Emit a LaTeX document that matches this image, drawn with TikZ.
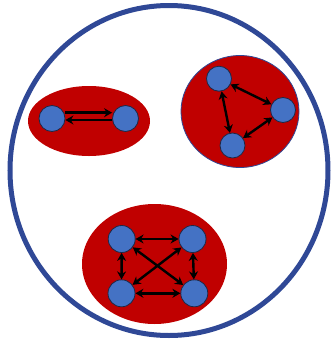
\documentclass[tikz,border=0pt]{standalone}
\usetikzlibrary{arrows.meta}
\definecolor{bigblue}{RGB}{47,72,150}
\definecolor{grpred}{RGB}{192,0,0}
\definecolor{nodeblue}{RGB}{68,114,196}
\definecolor{nodeedge}{RGB}{30,40,70}
\begin{document}
\begin{tikzpicture}[x=1pt,y=-1pt,
  agent/.style={circle,draw=nodeedge,line width=0.8pt,fill=nodeblue,minimum size=26pt,inner sep=0pt},
  link/.style={line width=2.4pt,black,{Stealth[length=8pt,width=9pt]}-{Stealth[length=8pt,width=9pt]}},
  onelink/.style={line width=2.6pt,black,-{Stealth[length=8pt,width=9pt]}},
  group/.style={fill=grpred}]
\useasboundingbox (0,0) rectangle (332,341);
\draw[bigblue,line width=5pt] (169,170.5) ellipse [x radius=159,y radius=165];
% left group
\fill[group] (89,121) ellipse [x radius=61,y radius=35];
\node[agent] (a1) at (52,118.5) {};
\node[agent] (a2) at (125.5,118.5) {};
\draw[onelink] ([yshift=5.8pt]a1.east) -- ([yshift=5.8pt]a2.west);
\draw[onelink] ([yshift=-1.5pt]a2.west) -- ([yshift=-1.5pt]a1.east);
% right group
\draw[group,draw=bigblue,line width=0.8pt] (240,111.5) ellipse [x radius=59,y radius=56];
\node[agent,minimum size=25pt] (b1) at (219,78.7) {};
\node[agent,minimum size=25pt] (b2) at (283,110) {};
\node[agent,minimum size=25pt] (b3) at (232.5,145.5) {};
\draw[link] (b1) -- (b2);
\draw[link] (b1) -- (b3);
\draw[link] (b3) -- (b2);
% bottom group
\fill[group] (154.5,264) ellipse [x radius=72.5,y radius=60];
\node[agent,minimum size=27pt] (c1) at (121.7,239) {};
\node[agent,minimum size=27pt] (c2) at (192.5,239) {};
\node[agent,minimum size=27pt] (c3) at (121.5,293.3) {};
\node[agent,minimum size=27pt] (c4) at (194.3,293.3) {};
\draw[link] (c1) -- (c2);
\draw[link] (c3) -- (c4);
\draw[link] (c1) -- (c3);
\draw[link] (c2) -- (c4);
\draw[link] (c1) -- (c4);
\draw[link] (c2) -- (c3);
\end{tikzpicture}
\end{document}
